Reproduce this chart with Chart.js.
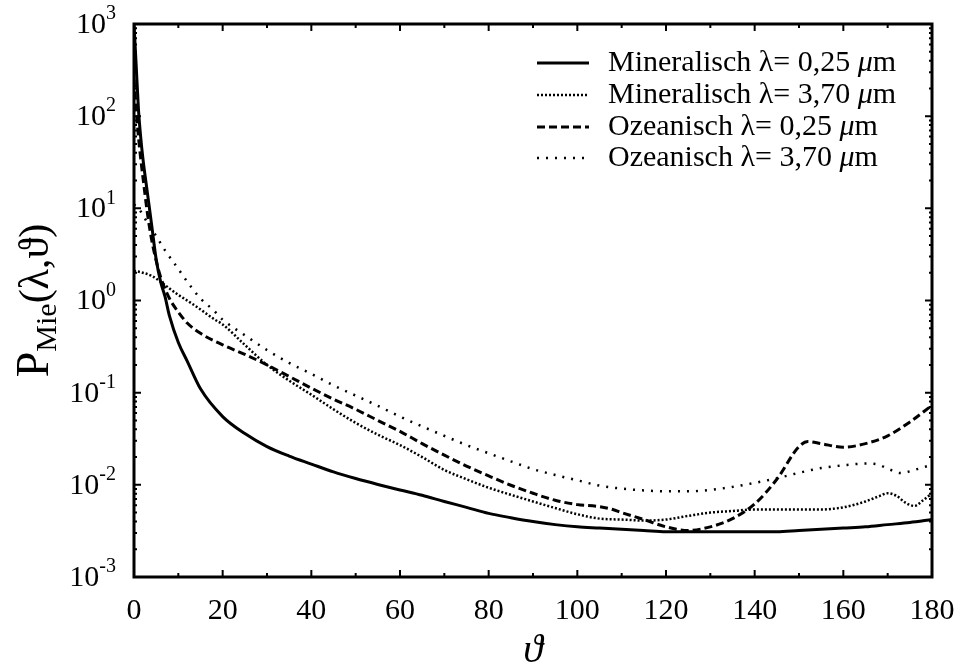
<!DOCTYPE html>
<html>
<head>
<meta charset="utf-8">
<script src="https://cdn.jsdelivr.net/npm/chart.js@4.4.1/dist/chart.umd.min.js"></script>
<style>
  html, body { margin: 0; padding: 0; background: #fff; }
  canvas { display: block; }
</style>
</head>
<body>
<canvas id="mieChart" width="962" height="666"></canvas>
<script>
// Mineralisch, lambda = 0,25 um (solid)
const thetaMin025 = [0, 0.5, 1, 1.5, 2, 3, 4, 5, 6, 7, 8, 10, 12, 15, 20, 25, 30, 35, 40, 45, 50, 55, 60, 65, 70, 75, 80, 85, 90, 95, 100, 105, 110, 115, 120, 125, 130, 135, 140, 145, 150, 155, 160, 165, 170, 175, 180];
const pMin025 = [1000, 350, 120, 60, 35, 15, 6.5, 2.8, 1.6, 1.1, 0.68, 0.35, 0.22, 0.11, 0.055, 0.036, 0.026, 0.0205, 0.0168, 0.0138, 0.0117, 0.0101, 0.0088, 0.0077, 0.0066, 0.0057, 0.0049, 0.0044, 0.0040, 0.0037, 0.0035, 0.0034, 0.0033, 0.0032, 0.0031, 0.0031, 0.0031, 0.0031, 0.0031, 0.0031, 0.0032, 0.0033, 0.0034, 0.0035, 0.0037, 0.0039, 0.0042];

// Mineralisch, lambda = 3,70 um (dense dots)
const thetaMin370 = [0, 2, 4, 6, 8, 10, 12, 15, 18, 20, 25, 30, 35, 40, 45, 50, 55, 60, 65, 70, 75, 80, 85, 90, 95, 100, 105, 110, 115, 120, 125, 130, 135, 140, 145, 150, 155, 160, 165, 168, 170, 172, 174, 176, 178, 180];
const pMin370 = [2.1, 2.0, 1.85, 1.6, 1.35, 1.15, 1.0, 0.8, 0.63, 0.55, 0.33, 0.2, 0.135, 0.095, 0.066, 0.047, 0.035, 0.027, 0.02, 0.0145, 0.0115, 0.0093, 0.0078, 0.0066, 0.0056, 0.0048, 0.0043, 0.0042, 0.0041, 0.0042, 0.0046, 0.005, 0.0052, 0.0054, 0.0054, 0.0054, 0.0054, 0.0057, 0.0066, 0.0075, 0.0081, 0.0076, 0.0064, 0.0059, 0.0068, 0.0081];

// Ozeanisch, lambda = 0,25 um (dashed)
const thetaOze025 = [0, 0.5, 1, 1.5, 2, 3, 4, 5, 6, 8, 10, 12, 15, 20, 25, 30, 35, 40, 45, 50, 55, 60, 65, 70, 75, 80, 85, 90, 95, 100, 105, 108, 110, 115, 120, 125, 130, 135, 140, 145, 150, 152, 155, 160, 165, 170, 175, 180];
const pOze025 = [250, 120, 60, 35, 22, 9, 4.5, 2.7, 1.8, 1.05, 0.75, 0.57, 0.44, 0.33, 0.26, 0.2, 0.15, 0.112, 0.085, 0.066, 0.05, 0.038, 0.028, 0.021, 0.016, 0.0125, 0.0099, 0.0081, 0.0068, 0.0061, 0.0058, 0.0054, 0.005, 0.0042, 0.0035, 0.0032, 0.0035, 0.0043, 0.0062, 0.0115, 0.026, 0.0295, 0.028, 0.0256, 0.028, 0.034, 0.048, 0.073];

// Ozeanisch, lambda = 3,70 um (sparse dots)
const thetaOze370 = [0, 1, 2, 3, 5, 7, 10, 12, 15, 18, 20, 25, 30, 35, 40, 45, 50, 55, 60, 65, 70, 75, 80, 85, 90, 95, 100, 105, 110, 115, 120, 125, 130, 135, 140, 145, 150, 155, 160, 165, 168, 170, 173, 176, 180];
const pOze370 = [11, 10, 8.5, 7, 5, 3.5, 2.2, 1.6, 1.05, 0.78, 0.62, 0.42, 0.29, 0.21, 0.16, 0.12, 0.093, 0.072, 0.055, 0.043, 0.034, 0.027, 0.022, 0.018, 0.0148, 0.0128, 0.0112, 0.0098, 0.0091, 0.0087, 0.0085, 0.0085, 0.0088, 0.0095, 0.0105, 0.0118, 0.0135, 0.0152, 0.0163, 0.017, 0.0165, 0.015, 0.0134, 0.0145, 0.0165];

const seriesLabels = [
  'Mineralisch \u03bb= 0,25 \u03bcm',
  'Mineralisch \u03bb= 3,70 \u03bcm',
  'Ozeanisch \u03bb= 0,25 \u03bcm',
  'Ozeanisch \u03bb= 3,70 \u03bcm'
];

const xTicks = [0, 20, 40, 60, 80, 100, 120, 140, 160, 180];
const xMinorTicks = [10, 30, 50, 70, 90, 110, 130, 150, 170];
const yTicks = [1e-3, 1e-2, 1e-1, 1e0, 1e1, 1e2, 1e3];
const yExponents = ['-3', '-2', '-1', '0', '1', '2', '3'];

const serif = '"Liberation Serif", "Times New Roman", "DejaVu Serif", serif';

function toPoints(xs, ys) {
  return xs.map((x, i) => ({ x: x, y: ys[i] }));
}

const styles = [
  { dash: [], width: 3 },
  { dash: [2, 2], width: 2.5 },
  { dash: [8, 4], width: 3 },
  { dash: [2, 7], width: 2.5 }
];

// frame, inward ticks, tick labels, axis titles and legend
const decorPlugin = {
  id: 'decor',
  afterDraw(chart) {
    const ctx = chart.ctx;
    const a = chart.chartArea;
    const xs = chart.scales.x;
    const ys = chart.scales.y;
    ctx.save();
    ctx.strokeStyle = '#000';
    ctx.fillStyle = '#000';

    // ticks
    ctx.lineWidth = 2;
    ctx.beginPath();
    xTicks.forEach(v => {
      const px = xs.getPixelForValue(v);
      ctx.moveTo(px, a.bottom); ctx.lineTo(px, a.bottom - 7);
      ctx.moveTo(px, a.top); ctx.lineTo(px, a.top + 7);
    });
    xMinorTicks.forEach(v => {
      const px = xs.getPixelForValue(v);
      ctx.moveTo(px, a.bottom); ctx.lineTo(px, a.bottom - 4);
      ctx.moveTo(px, a.top); ctx.lineTo(px, a.top + 4);
    });
    yTicks.forEach((v, i) => {
      const py = ys.getPixelForValue(v);
      ctx.moveTo(a.left, py); ctx.lineTo(a.left + 7, py);
      ctx.moveTo(a.right, py); ctx.lineTo(a.right - 7, py);
      if (i < yTicks.length - 1) {
        for (let m = 2; m < 10; m++) {
          const pm = ys.getPixelForValue(v * m);
          ctx.moveTo(a.left, pm); ctx.lineTo(a.left + 3, pm);
          ctx.moveTo(a.right, pm); ctx.lineTo(a.right - 3, pm);
        }
      }
    });
    ctx.stroke();

    // frame
    ctx.lineWidth = 3;
    ctx.strokeRect(a.left, a.top, a.right - a.left, a.bottom - a.top);

    // x tick labels
    ctx.font = '30px ' + serif;
    ctx.textAlign = 'center';
    ctx.textBaseline = 'middle';
    xTicks.forEach(v => {
      ctx.fillText(String(v), xs.getPixelForValue(v), a.bottom + 34);
    });

    // y tick labels: 10 with superscript exponent
    yTicks.forEach((v, i) => {
      const py = ys.getPixelForValue(v);
      ctx.font = '30px ' + serif;
      const wBase = ctx.measureText('10').width;
      ctx.font = '20px ' + serif;
      const wExp = ctx.measureText(yExponents[i]).width;
      const x0 = a.left - 18 - wBase - wExp;
      ctx.textAlign = 'left';
      ctx.font = '30px ' + serif;
      ctx.fillText('10', x0, py + 1);
      ctx.font = '20px ' + serif;
      ctx.fillText(yExponents[i], x0 + wBase, py - 10);
    });

    // x axis title
    ctx.font = 'italic 40px ' + serif;
    ctx.textAlign = 'center';
    ctx.textBaseline = 'alphabetic';
    ctx.fillText('\u03d1', (a.left + a.right) / 2, a.bottom + 85);

    // y axis title: P_Mie(lambda, theta)
    ctx.save();
    ctx.translate(48, (a.top + a.bottom) / 2);
    ctx.rotate(-Math.PI / 2);
    const partP = 'P', partSub = 'Mie', partArg = '(\u03bb,\u03d1)';
    ctx.font = '46px ' + serif;
    const wP = ctx.measureText(partP).width;
    ctx.font = '42px ' + serif;
    const wArg = ctx.measureText(partArg).width;
    ctx.font = '30px ' + serif;
    const wSub = ctx.measureText(partSub).width;
    let tx = -(wP + wSub + wArg) / 2;
    ctx.textAlign = 'left';
    ctx.textBaseline = 'alphabetic';
    ctx.font = '46px ' + serif;
    ctx.fillText(partP, tx, 0);
    tx += wP;
    ctx.font = '30px ' + serif;
    ctx.fillText(partSub, tx, 8);
    tx += wSub;
    ctx.font = '42px ' + serif;
    ctx.fillText(partArg, tx, 0);
    ctx.restore();

    // legend
    const rowY = [63, 95, 127, 158];
    chart.data.datasets.forEach((ds, i) => {
      const y = rowY[i];
      ctx.save();
      ctx.lineWidth = styles[i].width;
      ctx.setLineDash(styles[i].dash);
      ctx.beginPath();
      ctx.moveTo(537, y);
      ctx.lineTo(589, y);
      ctx.stroke();
      ctx.restore();
      const parts = ds.label.split('\u03bc');
      ctx.textAlign = 'left';
      ctx.textBaseline = 'middle';
      ctx.font = '30px ' + serif;
      let lx = 608;
      ctx.fillText(parts[0], lx, y);
      lx += ctx.measureText(parts[0]).width;
      ctx.font = 'italic 30px ' + serif;
      ctx.fillText('\u03bc', lx, y);
      lx += ctx.measureText('\u03bc').width;
      ctx.font = '30px ' + serif;
      ctx.fillText(parts[1], lx, y);
    });

    ctx.restore();
  }
};

const datasets = [
  toPoints(thetaMin025, pMin025),
  toPoints(thetaMin370, pMin370),
  toPoints(thetaOze025, pOze025),
  toPoints(thetaOze370, pOze370)
].map((pts, i) => ({
  label: seriesLabels[i],
  data: pts,
  borderColor: '#000',
  borderWidth: styles[i].width,
  borderDash: styles[i].dash,
  pointRadius: 0,
  fill: false,
  cubicInterpolationMode: 'monotone'
}));

new Chart(document.getElementById('mieChart').getContext('2d'), {
  type: 'line',
  data: { datasets: datasets },
  options: {
    responsive: false,
    devicePixelRatio: 1,
    animation: false,
    layout: { padding: { left: 134, right: 30, top: 24, bottom: 89 } },
    plugins: {
      legend: { display: false },
      tooltip: { enabled: false }
    },
    scales: {
      x: {
        type: 'linear',
        min: 0,
        max: 180,
        display: false
      },
      y: {
        type: 'logarithmic',
        min: 1e-3,
        max: 1e3,
        display: false
      }
    }
  },
  plugins: [decorPlugin]
});
</script>
</body>
</html>
